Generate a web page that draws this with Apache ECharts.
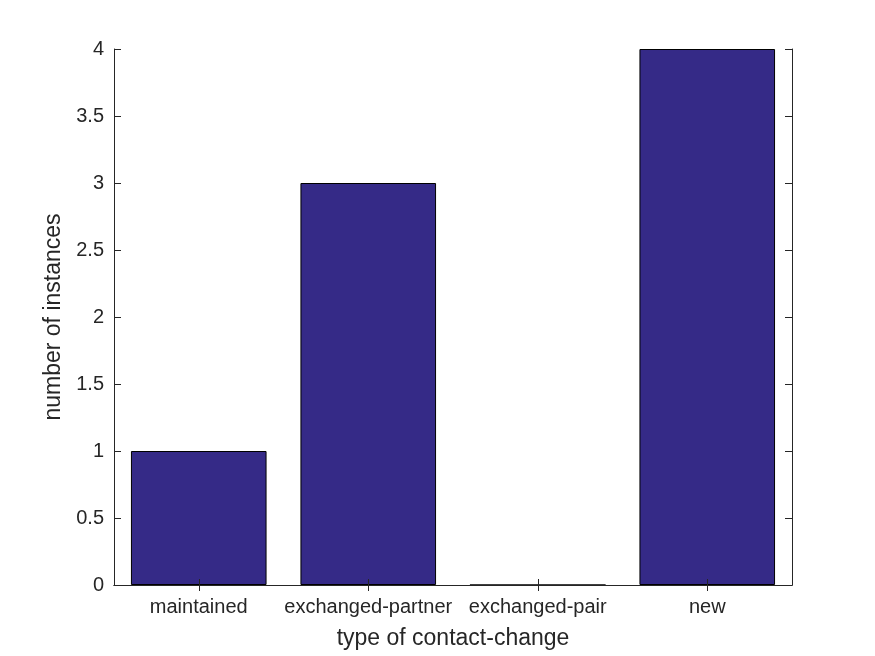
<!DOCTYPE html>
<html>
<head>
<meta charset="utf-8">
<script src="https://cdn.jsdelivr.net/npm/echarts@6/dist/echarts.min.js"></script>
<style>html,body{margin:0;padding:0;background:#fff;}#c{width:875px;height:656px;}</style>
</head>
<body>
<div id="c"></div>
<script>
const categories = ['maintained', 'exchanged-partner', 'exchanged-pair', 'new'];
const values = [1, 3, 0, 4];
const yTicks = { min: 0, max: 4, interval: 0.5 };

const axisColor = '#262626';
const fontFamily = '"Liberation Sans", Arial, Helvetica, sans-serif';
const tickFont = 20;
const labelFont = 23;

const chart = echarts.init(document.getElementById('c'), null, { renderer: 'canvas' });
const lineStyle = { color: axisColor, width: 1 };
chart.setOption({
  animation: false,
  backgroundColor: '#fff',
  grid: { left: 114, right: 83, top: 49, bottom: 71, containLabel: false },
  xAxis: [
    {
      type: 'category', data: categories, position: 'bottom', z: 5,
      name: 'type of contact-change', nameLocation: 'middle', nameGap: 42,
      nameTextStyle: { color: axisColor, fontSize: labelFont, fontFamily: fontFamily },
      axisLine: { show: true, lineStyle: lineStyle },
      axisTick: { show: true, inside: true, alignWithLabel: true, length: 6, lineStyle: lineStyle },
      axisLabel: { color: axisColor, fontSize: tickFont, fontFamily: fontFamily, margin: 12, interval: 0 },
      splitLine: { show: false }
    },
    {
      type: 'category', data: categories, position: 'top', z: 5,
      axisLine: { show: true, lineStyle: lineStyle },
      axisTick: { show: true, inside: true, alignWithLabel: true, length: 6, lineStyle: lineStyle },
      axisLabel: { show: false },
      splitLine: { show: false }
    }
  ],
  yAxis: [
    {
      type: 'value', min: yTicks.min, max: yTicks.max, interval: yTicks.interval, position: 'left', z: 5,
      name: 'number of instances', nameLocation: 'middle', nameGap: 47, nameRotate: 90,
      nameTextStyle: { color: axisColor, fontSize: labelFont, fontFamily: fontFamily },
      axisLine: { show: true, lineStyle: lineStyle },
      axisTick: { show: true, inside: true, length: 7, lineStyle: lineStyle },
      axisLabel: { color: axisColor, fontSize: tickFont, fontFamily: fontFamily, margin: 10 },
      splitLine: { show: false }
    },
    {
      type: 'value', min: yTicks.min, max: yTicks.max, interval: yTicks.interval, position: 'right', z: 5,
      axisLine: { show: true, lineStyle: lineStyle },
      axisTick: { show: true, inside: true, length: 7, lineStyle: lineStyle },
      axisLabel: { show: false },
      splitLine: { show: false }
    }
  ],
  series: [
    {
      type: 'bar', data: values, xAxisIndex: 0, yAxisIndex: 0,
      barCategoryGap: '20%',
      itemStyle: { color: '#352a87', borderColor: '#000', borderWidth: 1 }
    }
  ]
});
</script>
</body>
</html>
